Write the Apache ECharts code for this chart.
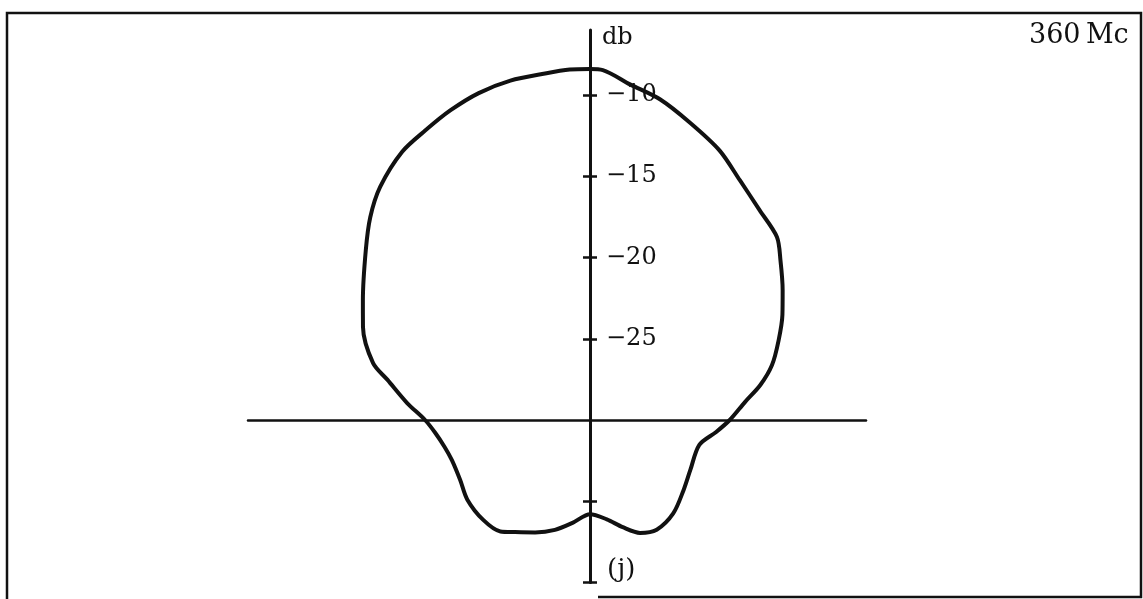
<!DOCTYPE html>
<html>
<head>
<meta charset="utf-8">
<title>360 Mc pattern</title>
<script src="https://cdn.jsdelivr.net/npm/echarts@6/dist/echarts.min.js"></script>
<style>
  html, body { margin: 0; padding: 0; background: #fff; }
  #chart { width: 1143px; height: 599px; }
</style>
</head>
<body>
<div id="chart"></div>
<script>
// Measured pattern: azimuth in degrees (0 = straight up, clockwise) and level in db
const azimuths = [0, 2.1, 6.8, 12.3, 18.6, 25.7, 32, 39, 45.6, 50, 56, 61.3, 67.1, 73.2, 78.4, 83.4,
  90, 95.4, 102.8, 116.6, 127, 138.3, 148.7, 156.1, 163, 170.4, 180, 189.4, 197.7, 206, 213.8, 218.8,
  226.9, 237, 245.2, 253.8, 259.5, 265.2, 270, 275.3, 281.2, 284.7, 292.3, 297.8, 307.1, 312.7, 318,
  325, 330.4, 335.7, 341.2, 346.8, 352.6, 356.7, 360];
const levels = [-8.4, -8.45, -9.2, -9.8, -10.7, -11.6, -12.6, -13.4, -13.9, -14.7, -15.7, -16.5, -17.4, -18.3, -19.3, -20.4,
  -21.4, -22.2, -23.1, -23.1, -22.8, -22.3, -22.1, -22.4, -23.1, -23.8, -24.2, -23.6, -22.9, -22.3, -21.7, -21.2,
  -21.0, -21.0, -21.2, -21.15, -20.9, -20.45, -19.85, -18.7, -17.3, -16.2, -14.9, -14.2, -12.7, -11.6, -10.7,
  -9.85, -9.5, -9.1, -8.75, -8.55, -8.5, -8.4, -8.4];

// Scale ticks
const upTicks = [-25, -20, -15, -10];
const downTicks = [-25, -20];
const dbMin = -30;
const upMax = -6;
const downMax = -20;

const INK = '#111';
const SERIF = 'DejaVu Serif';
const CX = 590, CY = 420;
const PX_PER_DB = 16.25;
const TICK_HALF = 7;

const chart = echarts.init(document.getElementById('chart'), null, { renderer: 'canvas' });

function arm(cx, radius) {
  return { center: [cx, CY], radius: radius };
}
function angle(startAngle, i) {
  return { type: 'value', min: 0, max: 360, startAngle: startAngle, show: false, polarIndex: i };
}
// axis line only (no ticks)
function lineAxis(i, min, max, width, labels) {
  return {
    polarIndex: i, type: 'value', min: min, max: max,
    axisLine: { show: true, lineStyle: { color: INK, width: width } },
    axisTick: { show: false },
    axisLabel: labels || { show: false },
    splitLine: { show: false },
    splitArea: { show: false }
  };
}
// ticks only, spanning both sides of the scale line
function tickAxis(i, min, max, ticks) {
  return {
    polarIndex: i, type: 'value', min: min, max: max,
    axisLine: { show: false },
    axisTick: { show: true, customValues: ticks, length: TICK_HALF * 2, lineStyle: { color: INK, width: 2.5 } },
    axisLabel: { show: false },
    splitLine: { show: false },
    splitArea: { show: false }
  };
}

const pattern = azimuths.map((a, i) => [levels[i], a]);
const upRadius = (upMax - dbMin) * PX_PER_DB;
const downRadius = (downMax - dbMin) * PX_PER_DB;

const option = {
  backgroundColor: '#fff',
  animation: false,
  polar: [
    arm(CX, upRadius),                 // 0: pattern + upward scale line and labels
    arm(CX + TICK_HALF, upRadius),     // 1: upward scale ticks
    arm(CX, downRadius),               // 2: downward scale line
    arm(CX - TICK_HALF, downRadius),   // 3: downward scale ticks
    arm(CX, 342),                      // 4: baseline to the left
    arm(CX, 276)                       // 5: baseline to the right
  ],
  angleAxis: [angle(90, 0), angle(90, 1), angle(270, 2), angle(270, 3), angle(180, 4), angle(0, 5)],
  radiusAxis: [
    lineAxis(0, dbMin, upMax, 3, {
      show: true, customValues: upTicks, margin: -16, align: 'left', verticalAlign: 'middle',
      color: INK, fontFamily: SERIF, fontSize: 24,
      formatter: v => '\u2212' + Math.abs(v)
    }),
    tickAxis(1, dbMin, upMax, upTicks),
    lineAxis(2, dbMin, downMax, 3),
    tickAxis(3, dbMin, downMax, downTicks),
    lineAxis(4, 0, 1, 2.5),
    lineAxis(5, 0, 1, 2.5)
  ],
  series: [{
    type: 'line',
    coordinateSystem: 'polar',
    polarIndex: 0,
    data: pattern,
    smooth: 0.3,
    clip: false,
    symbol: 'none',
    lineStyle: { color: INK, width: 4 },
    z: 5
  }],
  graphic: [
    {
      type: 'polyline', silent: true,
      shape: { points: [[7, 599], [7, 13], [1141, 13], [1141, 597], [598, 597]] },
      style: { stroke: INK, lineWidth: 2.5, fill: null }
    },
    { type: 'text', left: 602, top: 26, style: { text: 'db', font: '24px "DejaVu Serif"', fill: INK } },
    { type: 'text', left: 1029, top: 22, style: { text: '360\u2009Mc', font: '27px "DejaVu Serif"', fill: INK } },
    { type: 'text', left: 607, top: 557, style: { text: '(j)', font: '26px "DejaVu Serif"', fill: INK } }
  ]
};

chart.setOption(option);
</script>
</body>
</html>
